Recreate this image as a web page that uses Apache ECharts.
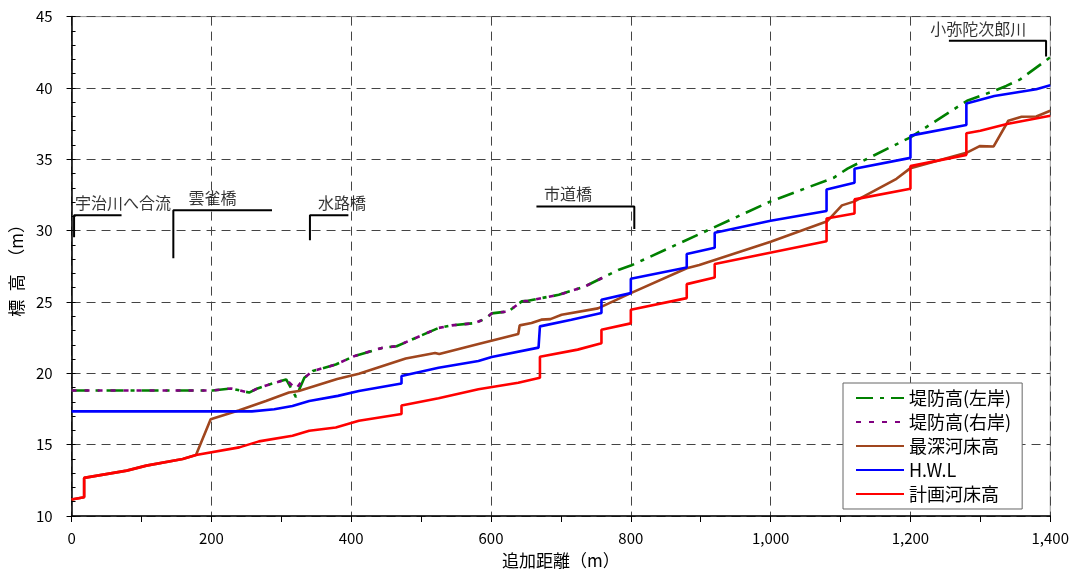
<!DOCTYPE html>
<html>
<head>
<meta charset="utf-8">
<script src="https://cdn.jsdelivr.net/npm/echarts@6/dist/echarts.min.js"></script>
<style>
  html, body { margin: 0; padding: 0; background: #fff; }
  #chart { width: 1072px; height: 574px; }
</style>
</head>
<body>
<div id="chart"></div>
<script>
  // 追加距離 (m), 標高 (m)
  const leftBank = [
    [0, 18.8], [202, 18.8], [228, 18.94], [254, 18.65], [266, 18.94], [283, 19.22], [307, 19.57],
    [321, 18.34], [333, 19.69], [345, 20.16], [378, 20.62], [404, 21.2], [444, 21.78], [465, 21.9],
    [525, 23.18], [544, 23.36], [577, 23.52], [592, 23.83], [601, 24.2], [625, 24.34], [644, 25.04],
    [653, 25.08], [672, 25.27], [697, 25.5], [715, 25.78], [734, 26.08], [758, 26.66], [782, 27.24],
    [800, 27.55], [1000, 32.05], [1090, 33.7], [1110, 34.35], [1200, 36.54], [1281, 39.1],
    [1320, 39.8], [1337, 40.14], [1357, 40.6], [1400, 42.15]
  ];
  const rightBank = [
    [0, 18.8], [202, 18.8], [228, 18.94], [254, 18.65], [266, 18.94], [283, 19.22], [307, 19.57],
    [321, 18.9], [333, 19.69], [345, 20.16], [378, 20.62], [404, 21.2], [444, 21.78], [465, 21.9],
    [525, 23.18], [544, 23.36], [577, 23.52], [592, 23.83], [601, 24.2], [625, 24.34], [644, 25.04],
    [653, 25.08], [672, 25.27], [697, 25.5], [715, 25.78], [734, 26.08], [758, 26.66], [770, 26.9]
  ];
  const deepestBed = [
    [0, 11.15], [18, 11.32], [18, 12.67], [79, 13.18], [107, 13.53], [159, 14.0], [178, 14.27],
    [199, 16.78], [240, 17.41], [278, 18.06], [311, 18.65], [325, 18.76], [380, 19.6], [411, 19.97],
    [478, 21.04], [520, 21.43], [526, 21.36], [582, 22.06], [639, 22.76], [641, 23.36], [658, 23.52],
    [672, 23.76], [685, 23.8], [701, 24.1], [753, 24.55], [800, 25.62], [880, 27.36], [898, 27.59],
    [1000, 29.22], [1081, 30.66], [1102, 31.77], [1120, 32.05], [1180, 33.63], [1200, 34.38],
    [1280, 35.45], [1299, 35.92], [1319, 35.9], [1340, 37.7], [1359, 37.98], [1380, 38.0], [1400, 38.4]
  ];
  const hwl = [
    [0, 17.33], [258, 17.33], [290, 17.48], [316, 17.71], [340, 18.06], [381, 18.42], [411, 18.76],
    [472, 19.29], [472, 19.81], [525, 20.39], [582, 20.86], [601, 21.14], [668, 21.8], [670, 23.29],
    [715, 23.76], [758, 24.22], [758, 25.15], [800, 25.62], [800, 26.63], [880, 27.41], [880, 28.36],
    [920, 28.8], [920, 29.85], [1000, 30.69], [1080, 31.38], [1080, 32.89], [1120, 33.36],
    [1120, 34.33], [1200, 35.1], [1200, 36.66], [1280, 37.4], [1280, 38.91], [1320, 39.44],
    [1380, 39.91], [1400, 40.19]
  ];
  const planBed = [
    [0, 11.15], [18, 11.32], [18, 12.67], [79, 13.18], [107, 13.53], [159, 14.0], [178, 14.27],
    [240, 14.81], [268, 15.23], [316, 15.62], [340, 15.97], [378, 16.2], [411, 16.67], [472, 17.15],
    [472, 17.75], [525, 18.25], [582, 18.88], [639, 19.34], [670, 19.69], [670, 21.16], [724, 21.66],
    [758, 22.1], [758, 23.06], [800, 23.5], [800, 24.45], [880, 25.27], [880, 26.25], [920, 26.71],
    [920, 27.66], [1080, 29.26], [1080, 30.85], [1120, 31.2], [1120, 32.19], [1200, 32.94],
    [1200, 34.52], [1280, 35.31], [1280, 36.82], [1300, 37.0], [1338, 37.47], [1400, 38.05]
  ];

  // 地点の注記（かぎ線と名称）
  const annotationLines = [
    [[3.6, 29.53], [3.6, 31.08], [71.5, 31.08]],
    [[145.6, 28.07], [145.6, 31.43], [286.7, 31.43]],
    [[341, 29.33], [341, 31.08], [396, 31.08]],
    [[665, 31.69], [805, 31.69], [805, 30.11]],
    [[1255, 43.3], [1394, 43.3], [1394, 42.21]]
  ];
  const annotationTexts = [
    ['宇治川へ合流', 5, 31.97, 'left'],
    ['雲雀橋', 201.6, 32.32, 'center'],
    ['水路橋', 387, 31.97, 'center'],
    ['市道橋', 710, 32.55, 'center'],
    ['小弥陀次郎川', 1297, 44.14, 'center']
  ];

  const seriesNames = ['堤防高(左岸)', '堤防高(右岸)', '最深河床高', 'H.W.L', '計画河床高'];
  const FONT = 'Noto Sans CJK JP';

  const lineSeries = (name, data, color, type) => ({
    name: name,
    type: 'line',
    data: data,
    symbol: 'none',
    lineStyle: {color: color, width: 2.6, type: type || 'solid'},
    itemStyle: {color: color},
    animation: false
  });

  const series = [
    lineSeries(seriesNames[0], leftBank, '#008000', [17, 7, 4, 7]),
    lineSeries(seriesNames[1], rightBank, '#800080', [5, 8]),
    lineSeries(seriesNames[2], deepestBed, '#A0461E'),
    lineSeries(seriesNames[3], hwl, '#0000FF'),
    lineSeries(seriesNames[4], planBed, '#FF0000')
  ];
  annotationLines.forEach((pts, i) => {
    series.push({
      name: 'note' + i,
      type: 'line',
      data: pts,
      symbol: 'none',
      silent: true,
      clip: false,
      lineStyle: {color: '#000', width: 2},
      animation: false
    });
  });
  series.push({
    name: 'noteText',
    type: 'scatter',
    symbolSize: 0,
    silent: true,
    clip: false,
    animation: false,
    data: annotationTexts.map(t => ({
      name: t[0],
      value: [t[1], t[2]],
      label: {align: t[3]}
    })),
    label: {
      show: true,
      position: 'inside',
      formatter: '{b}',
      color: '#000',
      fontSize: 16,
      fontFamily: FONT
    }
  });

  const gridDash = {color: '#444', width: 1, type: [9, 6]};

  const option = {
    backgroundColor: '#fff',
    animation: false,
    textStyle: {fontFamily: FONT},
    grid: {
      left: 71.5, right: 18, top: 16.6, bottom: 54,
      show: true, borderColor: '#999', borderWidth: 1
    },
    legend: {
      data: seriesNames,
      orient: 'vertical',
      left: 843,
      top: 383,
      itemWidth: 48,
      itemHeight: 14,
      itemGap: 6,
      padding: [6, 11, 6, 12],
      backgroundColor: '#fff',
      borderColor: '#666',
      borderWidth: 1,
      borderRadius: 0,
      itemStyle: {opacity: 0},
      textStyle: {fontSize: 18, color: '#000', fontFamily: FONT, lineHeight: 14}
    },
    xAxis: [
      {
        type: 'value',
        position: 'bottom',
        min: 0, max: 1400, interval: 200,
        name: '追加距離（m）',
        nameLocation: 'middle',
        nameGap: 36,
        nameTextStyle: {fontSize: 17, color: '#000', fontFamily: FONT},
        axisLine: {show: true, onZero: false, lineStyle: {color: '#000', width: 1.5}},
        axisTick: {show: true, inside: false, length: 6, lineStyle: {color: '#000'}},
        axisLabel: {
          fontSize: 15, color: '#000', margin: 15, fontFamily: FONT,
          formatter: v => v.toLocaleString('en-US')
        },
        splitLine: {show: true, lineStyle: gridDash}
      },
      {
        type: 'value',
        position: 'bottom',
        min: 0, max: 1400, interval: 100,
        axisLine: {show: false, onZero: false},
        axisTick: {show: true, inside: false, length: 6, lineStyle: {color: '#000'}},
        axisLabel: {show: false},
        splitLine: {show: false}
      }
    ],
    yAxis: [
      {
        type: 'value',
        position: 'left',
        min: 10, max: 45, interval: 5,
        name: '標\u2002高\u2002（m）',
        nameLocation: 'middle',
        nameGap: 43,
        nameRotate: 90,
        nameTextStyle: {fontSize: 17, color: '#000', fontFamily: FONT},
        axisLine: {show: true, onZero: false, lineStyle: {color: '#000', width: 1.5}},
        axisTick: {show: true, inside: false, length: 5, lineStyle: {color: '#000'}},
        axisLabel: {fontSize: 15, color: '#000', margin: 19, fontFamily: FONT},
        splitLine: {show: true, lineStyle: gridDash}
      },
      {
        type: 'value',
        position: 'left',
        min: 10, max: 45, interval: 1,
        axisLine: {show: false, onZero: false},
        axisTick: {show: true, inside: true, length: 4, lineStyle: {color: '#000'}},
        axisLabel: {show: false},
        splitLine: {show: false}
      }
    ],
    series: series
  };

  echarts.init(document.getElementById('chart')).setOption(option);
</script>
</body>
</html>
